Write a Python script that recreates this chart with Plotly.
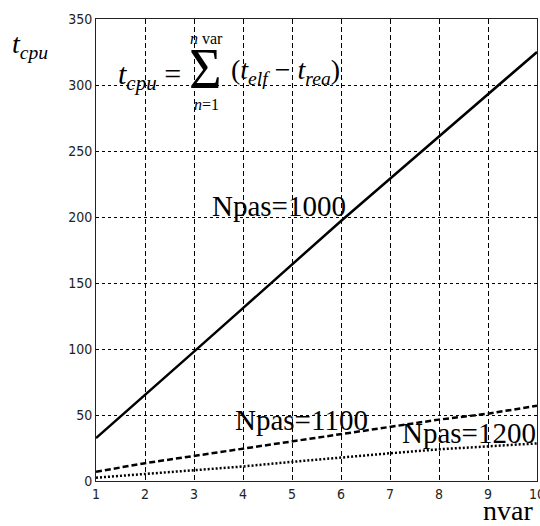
import plotly.graph_objects as go

# ---- data ----
nvar = [1, 2, 3, 4, 5, 6, 7, 8, 9, 10]
t_npas1000 = [32.5, 65, 98, 131, 164, 197, 229, 261, 293, 325]
t_npas1100 = [7, 13.5, 19, 24.5, 30, 35.5, 41, 46.5, 51, 57]
t_npas1200 = [2.5, 5.3, 8.5, 11, 14.5, 18, 21, 24, 26, 28.5]
x_ticks = [1, 2, 3, 4, 5, 6, 7, 8, 9, 10]
y_ticks = [0, 50, 100, 150, 200, 250, 300, 350]

W, H = 540, 526
L, R, T, B = 96, 3, 19, 45
PW, PH = W - L - R, H - T - B


def px(x):
    return (x - L) / PW


def py(y):
    return (H - B - y) / PH


serif = "Liberation Serif, Times New Roman, serif"
narrow = "Liberation Sans Narrow, DejaVu Sans Condensed, Arial Narrow, sans-serif"

fig = go.Figure()
fig.add_trace(go.Scatter(x=nvar, y=t_npas1000, mode="lines",
                         line=dict(color="black", width=2.5), name="Npas=1000"))
fig.add_trace(go.Scatter(x=nvar, y=t_npas1100, mode="lines",
                         line=dict(color="black", width=2.5, dash="6px,3px"), name="Npas=1100"))
fig.add_trace(go.Scatter(x=nvar, y=t_npas1200, mode="lines",
                         line=dict(color="black", width=2.5, dash="2px,2px"), name="Npas=1200"))

ann = []


def add(text, x, y, size, xa="center"):
    ann.append(dict(text=text, x=px(x), y=py(y), xref="paper", yref="paper",
                    showarrow=False, xanchor=xa, yanchor="middle",
                    font=dict(family=serif, size=size, color="black")))


add("Npas=1000", 279, 206, 29)
add("Npas=1100", 301, 420, 29)
add("Npas=1200", 469, 433, 29)
add("nvar", 508, 511, 28)
add("<i>t<sub>cpu</sub></i>", 30, 46, 28)
add("<i>t<sub>cpu</sub></i> =", 149, 76, 30)
add("\u03a3", 205, 69, 56)
add("<i>n</i> var", 206, 38, 16)
add("<i>n</i>=1", 206, 104, 16)
add("(<i>t<sub>elf</sub></i> \u2212 <i>t<sub>rea</sub></i>)", 285, 72, 28)

fig.update_layout(
    width=W, height=H,
    margin=dict(l=L, r=R, t=T, b=B, autoexpand=False),
    paper_bgcolor="white", plot_bgcolor="white",
    showlegend=False,
    annotations=ann,
    xaxis=dict(range=[1, 10], tickvals=x_ticks, ticks="", showline=True, mirror=True,
               linecolor="#222", linewidth=1, showgrid=True, gridcolor="black", gridwidth=1,
               griddash="5px,3px", zeroline=False, ticklabeloverflow="allow", automargin=False,
               tickfont=dict(family=narrow, size=14, color="#222")),
    yaxis=dict(range=[0, 350], tickvals=y_ticks, ticks="", showline=True, mirror=True,
               linecolor="#222", linewidth=1, showgrid=True, gridcolor="black", gridwidth=1,
               griddash="3px,3px", zeroline=False, ticklabeloverflow="allow", automargin=False,
               tickfont=dict(family=narrow, size=14, color="#222")),
)

fig.write_html(
    "out.html",
    config={"displayModeBar": False},
    post_script="document.body.style.margin='0';document.body.style.overflow='hidden';",
)
